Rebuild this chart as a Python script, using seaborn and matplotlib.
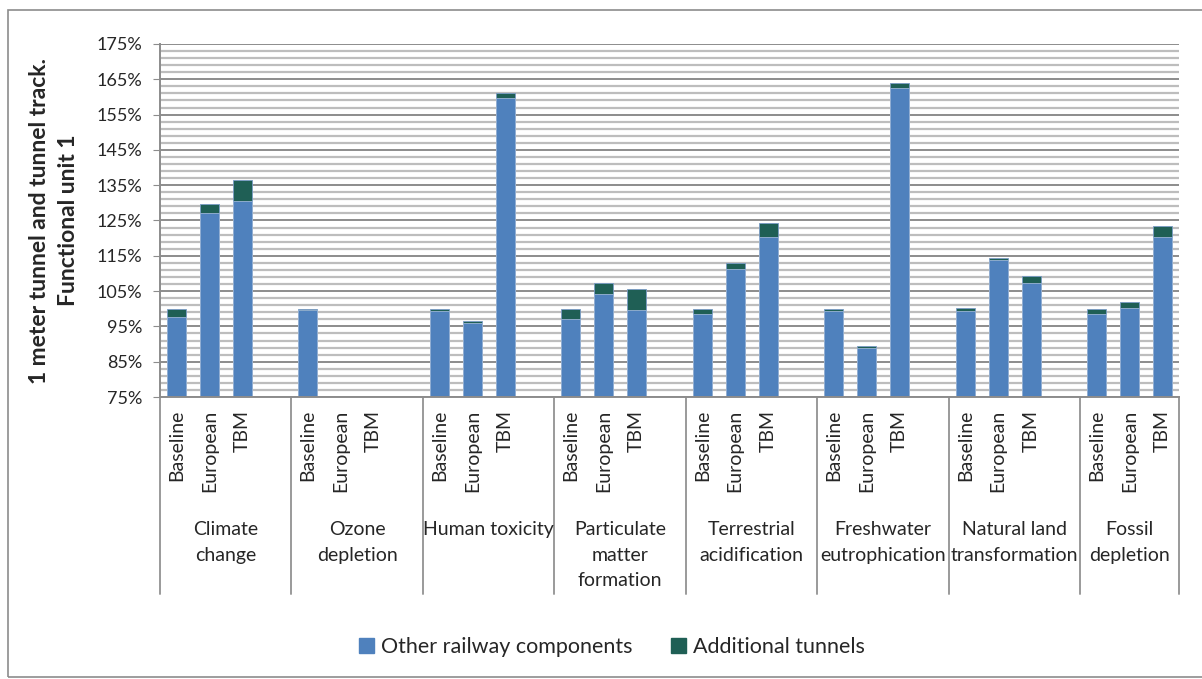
import matplotlib.pyplot as plt
from matplotlib.patches import Rectangle, Patch
from matplotlib.ticker import FuncFormatter
import seaborn as sns
import pandas as pd

impacts = ["Climate\nchange", "Ozone\ndepletion", "Human toxicity",
           "Particulate\nmatter\nformation", "Terrestrial\nacidification",
           "Freshwater\neutrophication", "Natural land\ntransformation",
           "Fossil\ndepletion"]
scenarios = ["Baseline", "European", "TBM"]

# % of baseline, per impact: Baseline, European, TBM
other_railway = [97.7, 127.2, 130.6,
                 99.7, 5.0, 5.0,
                 99.4, 95.9, 159.6,
                 97.0, 104.2, 99.6,
                 98.5, 111.3, 120.3,
                 99.4, 88.9, 162.4,
                 99.4, 113.8, 107.3,
                 98.4, 100.2, 120.2]
additional_tunnels = [2.3, 2.6, 5.8,
                      0.3, 0.0, 0.0,
                      0.6, 0.6, 1.4,
                      3.0, 3.0, 6.0,
                      1.5, 1.7, 3.9,
                      0.6, 0.6, 1.6,
                      0.7, 0.7, 2.0,
                      1.6, 1.7, 3.3]

blue = "#4F81BD"
green = "#1F5F55"

rows = []
for g, imp in enumerate(impacts):
    for i, sc in enumerate(scenarios):
        k = g * 3 + i
        rows.append({"pos": g * 4 + i, "impact": imp, "scenario": sc,
                     "other": other_railway[k],
                     "total": other_railway[k] + additional_tunnels[k]})
df = pd.DataFrame(rows)

sns.set_style("white")
plt.rcParams["font.family"] = ["Lato", "DejaVu Sans"]

fig = plt.figure(figsize=(12.02, 6.79), dpi=100)
ax = fig.add_axes([160 / 1202, 1 - 397 / 679, 1019 / 1202, 353 / 679])

sns.barplot(data=df, x="pos", y="total", native_scale=True, color=green,
            saturation=1, width=0.58, edgecolor="#7a9cc6", linewidth=0.6, ax=ax)
sns.barplot(data=df, x="pos", y="other", native_scale=True, color=blue,
            saturation=1, width=0.58, edgecolor="#9bb5d6", linewidth=0.6, ax=ax)

ax.set_ylim(75, 175)
ax.set_xlim(-0.5, 30.5)
ax.set_yticks(range(75, 176, 10))
ax.set_yticks(range(75, 176, 2), minor=True)
ax.yaxis.set_major_formatter(FuncFormatter(lambda v, p: f"{v:.0f}%"))
ax.grid(axis="y", which="major", color="#8c8c8c", linewidth=1.4)
ax.grid(axis="y", which="minor", color="#bdbdbd", linewidth=1.6)
ax.set_axisbelow(True)
ax.tick_params(axis="y", which="major", length=5, color="#8c8c8c",
               labelsize=13, pad=8, left=True)
ax.tick_params(axis="y", which="minor", length=0)

ax.set_xticks(df["pos"], labels=df["scenario"], rotation=90, fontsize=14)
ax.tick_params(axis="x", length=0, pad=9)
for lab in ax.get_xticklabels():
    lab.set_verticalalignment("top")

for s in ["top", "right"]:
    ax.spines[s].set_visible(False)
for s in ["left", "bottom"]:
    ax.spines[s].set_color("#8c8c8c")
    ax.spines[s].set_linewidth(1.4)

# group dividers and group labels under the axis
for g, imp in enumerate(impacts):
    ax.axvline(g * 4 - 0.5, ymin=-0.558, ymax=0, color="#9a9a9a",
               linewidth=1.4, clip_on=False)
    ax.text(g * 4 + 1.5 if g < 7 else g * 4 + 1, -0.352, imp,
            transform=ax.get_xaxis_transform(), ha="center", va="top",
            fontsize=14, linespacing=1.6)
ax.axvline(30.5, ymin=-0.558, ymax=0, color="#9a9a9a", linewidth=1.4,
           clip_on=False)

ax.set_xlabel("")
ax.set_ylabel("1 meter tunnel and tunnel track.\nFunctional unit 1",
              fontsize=16.5, fontweight="bold", linespacing=1.5)
ax.yaxis.set_label_coords(-0.079, 0.5)

handles = [Patch(color=blue, label="Other railway components"),
           Patch(color=green, label="Additional tunnels")]
fig.legend(handles=handles, loc="center", bbox_to_anchor=(612 / 1202, 1 - 647 / 679),
           ncol=2, frameon=False, fontsize=15.5, handlelength=0.7,
           handleheight=0.7, handletextpad=0.3, columnspacing=1.8)

fig.patches.append(Rectangle((8 / 1202, 2 / 679), 1.2, 667 / 679,
                             transform=fig.transFigure, fill=False,
                             edgecolor="#8c8c8c", linewidth=1.2))

fig.savefig("out.png", dpi=100)
plt.close(fig)
